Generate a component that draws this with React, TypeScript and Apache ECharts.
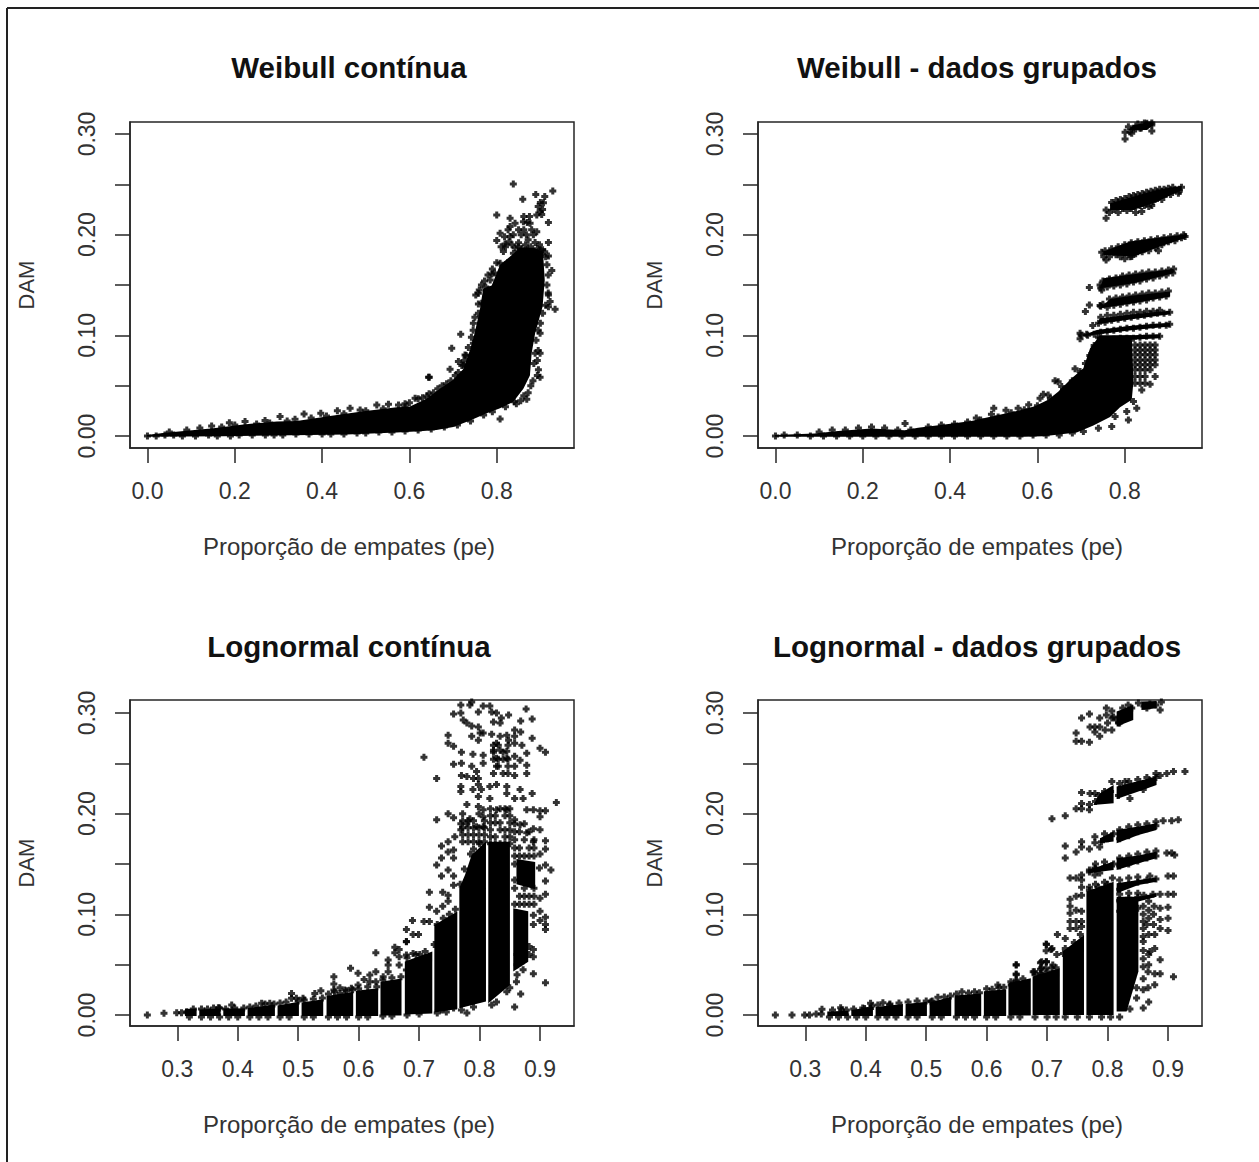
import React, { useEffect, useRef } from "react";
import * as echarts from "echarts";

type P = number[];

const titles = ["Weibull contínua", "Weibull - dados grupados", "Lognormal contínua", "Lognormal - dados grupados"];
const xName = "Proporção de empates (pe)";
const yName = "DAM";
const xTicksWeibull = [0, 0.2, 0.4, 0.6, 0.8];
const xTicksLognormal = [0.3, 0.4, 0.5, 0.6, 0.7, 0.8, 0.9];
const yTicks = [0, 0.05, 0.1, 0.15, 0.2, 0.25, 0.3];
const yLabels = [0, 0.1, 0.2, 0.3];

// ---- Weibull contínua
const wcDense: P[][] = [[
  [-0.002,-0.0008],[0.174,-0.0002],[0.4565,0.0015],[0.571,0.0035],[0.624,0.0047],[0.662,0.006],[0.7005,0.009],[0.739,0.0155],[0.777,0.0225],[0.8076,0.0275],[0.838,0.034],[0.861,0.047],[0.876,0.06],[0.88,0.0822],[0.888,0.1021],[0.905,0.1285],[0.91,0.155],[0.906,0.183],[0.884,0.187],[0.8535,0.187],[0.83,0.178],[0.8076,0.17],[0.7885,0.1495],[0.769,0.1465],[0.7617,0.1265],[0.75,0.103],[0.739,0.086],[0.7235,0.0665],[0.7005,0.056],[0.67,0.047],[0.639,0.037],[0.6,0.029],[0.571,0.0285],[0.495,0.0245],[0.418,0.02],[0.342,0.015],[0.296,0.0145],[0.2197,0.0115],[0.151,0.0078],[0.0898,0.0052],[0.036,0.003],[-0.002,0.001]
]];
const wcPoints: P[] = [
  [0.838,0.2503],[0.9284,0.2434],[0.8894,0.2398],[0.8596,0.2351],[0.907,0.2318],[0.8,0.2196],[0.8993,0.2229],[0.8917,0.2196],[0.8306,0.2163],[0.9184,0.212],[0.8611,0.2129],[0.8764,0.2113],[0.8306,0.208],[0.842,0.2113],[0.8917,0.203],[0.8077,0.2014],[0.8,0.1941],[0.8306,0.1981],[0.9184,0.1921],[0.8879,0.1921],[0.8497,0.1881],[0.8191,0.1908],[0.8153,0.1832],[0.8382,0.1815],[0.9184,0.1789],[0.7886,0.161],[0.8077,0.1716],[0.9261,0.1643],[0.758,0.1418],[0.758,0.1312],[0.9184,0.1401],[0.9337,0.1259],[0.7465,0.112],[0.7175,0.1011],[0.6969,0.0872],[0.6457,0.0584],[0.6931,0.0663],[0.7274,0.0805],[0.7122,0.0739],[0.8993,0.0584],[0.8688,0.0365],[0.8077,0.017],[0.8955,0.0657],[0.8879,0.0822],[0.7465,0.0921],[0.7236,0.0706],[0.9223,0.1335],[0.7809,0.1451],[0.7656,0.1319],[0.8993,0.0822],[0.8993,0.1021],[0.9184,0.1285],
  [0.147,0.01],[0.1876,0.0133],[0.2235,0.0143],[0.2693,0.0153],[0.3037,0.0193],[0.338,0.0166],[0.3587,0.0219],[0.397,0.0226],[0.435,0.0252],[0.4641,0.0275],[0.4871,0.0259],[0.5253,0.0308],[0.552,0.0315],[0.575,0.0308],[0.613,0.0375],[0.64,0.0398],[0.6437,0.0583],
  [0,0],[0.02,0],[0.04,0.001],[0.06,0.001],[0.08,0],[0.11,0],[0.14,0.001],[0.16,0],[0.19,0],[0.21,0.001],[0.24,0.001],[0.27,0.001],[0.29,0.001],[0.31,0.001],[0.34,0.002],[0.37,0.002],[0.4,0.002],[0.42,0.002],[0.45,0.002],[0.48,0.003],[0.5,0.003],[0.53,0.004],[0.56,0.004],[0.59,0.005],[0.62,0.006],[0.65,0.007],[0.68,0.009],[0.71,0.011],[0.74,0.015],[0.77,0.021],[0.79,0.024],[0.82,0.029],[0.84,0.034],
  [0.82,0.188],[0.828,0.193],[0.835,0.19],[0.842,0.187],[0.85,0.192],[0.856,0.2],[0.862,0.205],[0.868,0.2],[0.872,0.195],[0.878,0.188],[0.884,0.2],[0.866,0.19],[0.858,0.186],[0.88,0.205],[0.87,0.212],[0.862,0.218],[0.875,0.218],[0.85,0.205],[0.838,0.2],[0.826,0.205],[0.818,0.198],[0.81,0.188],[0.9,0.232],[0.895,0.228],[0.905,0.225],[0.903,0.22],[0.91,0.238],[0.898,0.19],[0.905,0.185],[0.91,0.183],[0.893,0.186],[0.9,0.18],
  [0.8,0.172],[0.79,0.166],[0.78,0.16],[0.772,0.154],[0.765,0.15],[0.775,0.148],[0.785,0.155],[0.795,0.162],[0.76,0.145],[0.752,0.14],[0.758,0.122],[0.75,0.118],[0.746,0.105],[0.742,0.098],[0.735,0.088],[0.73,0.08],[0.725,0.075],[0.72,0.07],[0.712,0.063],[0.705,0.06],[0.695,0.055],[0.685,0.052],[0.675,0.05],[0.665,0.047],[0.655,0.043],[0.645,0.042],[0.63,0.038],[0.62,0.037],[0.6,0.033],[0.59,0.032],
  [0.915,0.17],[0.918,0.16],[0.915,0.15],[0.918,0.142],[0.912,0.13],[0.905,0.122],[0.9,0.112],[0.895,0.105],[0.89,0.095],[0.895,0.085],[0.893,0.075],[0.885,0.072],[0.893,0.06],[0.883,0.055],[0.878,0.05],[0.872,0.043],[0.862,0.04],[0.855,0.035],[0.845,0.032],
  [0.912,0.178],[0.9,0.185],[0.885,0.183],[0.87,0.185],[0.85,0.183],[0.84,0.177],[0.825,0.172],[0.815,0.168],
  [0.05,0.004],[0.09,0.006],[0.12,0.008],[0.17,0.009],[0.2,0.011],[0.25,0.012],[0.28,0.013],[0.32,0.015],[0.375,0.018],[0.41,0.02],[0.45,0.022],[0.5,0.025],[0.54,0.027],[0.59,0.029]
];

// ---- Weibull dados grupados
const wgDense: P[][] = [
  [[-0.002,-0.0008],[0.571,-0.0008],[0.6136,-0.0002],[0.69,0.0035],[0.7282,0.0105],[0.7664,0.019],[0.7893,0.0285],[0.8161,0.036],[0.82,0.0541],[0.8161,0.1],[0.7435,0.1],[0.7206,0.0872],[0.7053,0.0673],[0.6786,0.0574],[0.6475,0.044],[0.6246,0.036],[0.594,0.0295],[0.5558,0.025],[0.4947,0.0195],[0.4489,0.0148],[0.3877,0.0115],[0.3266,0.0082],[0.296,0.0058],[0.2197,0.0075],[0.1433,0.005],[0.0898,0.0025],[-0.002,0.001]],
  [[0.7664,0.2246],[0.82,0.2246],[0.8734,0.2328],[0.9307,0.2444],[0.9307,0.2487],[0.8734,0.2444],[0.82,0.2378],[0.7664,0.2312]],
  [[0.7511,0.1799],[0.82,0.1782],[0.881,0.1882],[0.9421,0.1971],[0.9421,0.2004],[0.881,0.1971],[0.8123,0.1931],[0.7511,0.1832]],
  [[0.7435,0.1468],[0.82,0.1517],[0.9116,0.1617],[0.9116,0.166],[0.82,0.1607],[0.7511,0.1567]],
  [[0.7435,0.1269],[0.82,0.1319],[0.904,0.1385],[0.904,0.1435],[0.82,0.1395],[0.7664,0.1362]],
  [[0.7359,0.111],[0.82,0.1163],[0.904,0.121],[0.904,0.1243],[0.82,0.121],[0.7435,0.117]],
  [[0.6977,0.0988],[0.82,0.1054],[0.904,0.1087],[0.904,0.1124],[0.82,0.1097],[0.7359,0.1054]],
  [[0.7359,0.0938],[0.881,0.0971],[0.881,0.1011],[0.7359,0.0988]],
  [[0.8084,0.304],[0.8505,0.304],[0.8658,0.309],[0.8658,0.3123],[0.82,0.309]]
];
const wgPoints: P[] = [
  [0.8008,0.2951],[0.8008,0.3017],[0.8084,0.3073],[0.82,0.3057],[0.8352,0.3057],[0.8505,0.309],[0.862,0.303],[0.862,0.309],[0.816,0.3007],[0.8505,0.3106],
  [0.7573,0.2246],[0.7573,0.2163],[0.839,0.2229],[0.8619,0.2289],[0.923,0.2411],[0.7573,0.1749],[0.7473,0.1825],[0.8772,0.1839],[0.9383,0.1981],[0.8161,0.1782],[0.719,0.1474],[0.7435,0.1501],[0.7473,0.1451],[0.719,0.1302],[0.7099,0.1236],[0.7435,0.1296],[0.7267,0.1097],[0.6977,0.1021],[0.6977,0.0965],[0.7129,0.1011],
  [0.6404,0.0548],[0.606,0.0376],[0.6136,0.0415],[0.6862,0.0667],[0.6977,0.064],[0.6556,0.0491],[0.8275,0.0276],[0.8046,0.0243],[0.8084,0.016],[0.7702,0.0094],[0.7779,0.0193],[0.7397,0.0078],[0.7053,0.0045],[0.8581,0.0514],[0.8696,0.0591],[0.839,0.0458],[0.82,0.0342],
  [0.8237,0.0905],[0.8352,0.0905],[0.8466,0.0905],[0.8581,0.0905],[0.8696,0.0905],[0.8237,0.0855],[0.8352,0.0855],[0.8466,0.0855],[0.8581,0.0855],[0.8696,0.0855],[0.8237,0.0806],[0.8352,0.0806],[0.8466,0.0806],[0.8581,0.0806],[0.8696,0.0806],[0.8237,0.0756],[0.8352,0.0756],[0.8466,0.0756],[0.8581,0.0756],[0.8696,0.0756],[0.8237,0.0707],[0.8352,0.0707],[0.8466,0.0707],[0.8581,0.0707],[0.8696,0.0707],[0.8237,0.0657],[0.8352,0.0657],[0.8466,0.0657],[0.8581,0.0657],[0.8237,0.0591],[0.8352,0.0591],[0.8466,0.0591],[0.8237,0.0524],[0.8352,0.0524],[0.8466,0.0524],
  [0.2968,0.0125],[0.0,0],[0.02,0.001],[0.05,0.001],[0.08,0],[0.11,0],[0.14,0],[0.17,0],[0.2,0],[0.23,0],[0.26,0],[0.29,0],[0.32,0],[0.35,0],[0.38,0],[0.41,0],[0.44,0],[0.47,0],[0.5,0],[0.53,0],[0.56,0],[0.59,0.001],[0.62,0.001],[0.65,0.001],[0.68,0.003],
  [0.5558,0.0275],[0.528,0.0255],[0.4947,0.0215],[0.46,0.018],[0.5,0.0275],[0.58,0.031],[0.6246,0.0408],[0.6475,0.054],
  [0.1,0.004],[0.13,0.006],[0.16,0.006],[0.19,0.008],[0.22,0.009],[0.25,0.008],[0.28,0.006],[0.31,0.006],[0.35,0.009],[0.38,0.011],[0.41,0.012],[0.44,0.014],[0.47,0.016],[0.51,0.019],[0.54,0.023],[0.57,0.026],[0.6,0.03],[0.63,0.037],[0.66,0.046],[0.68,0.055],[0.7,0.062],[0.71,0.072],[0.72,0.08],[0.73,0.09],[0.74,0.098],
  [0.765,0.222],[0.775,0.225],[0.785,0.222],[0.795,0.226],[0.805,0.224],[0.815,0.226],[0.825,0.222],[0.835,0.229],[0.845,0.229],[0.855,0.228],[0.865,0.233],[0.875,0.236],[0.885,0.235],[0.895,0.24],[0.905,0.24],[0.915,0.244],[0.925,0.243],[0.93,0.247],[0.77,0.232],[0.78,0.234],[0.79,0.235],[0.8,0.236],[0.81,0.238],[0.82,0.239],[0.83,0.24],[0.84,0.241],[0.85,0.242],[0.86,0.243],[0.87,0.244],[0.88,0.245],[0.89,0.245],[0.9,0.246],[0.91,0.247],
  [0.752,0.178],[0.765,0.178],[0.78,0.18],[0.79,0.178],[0.8,0.176],[0.812,0.178],[0.825,0.181],[0.84,0.183],[0.855,0.184],[0.87,0.187],[0.885,0.19],[0.9,0.193],[0.915,0.194],[0.93,0.197],[0.755,0.184],[0.77,0.186],[0.785,0.188],[0.8,0.19],[0.815,0.192],[0.83,0.193],[0.845,0.194],[0.86,0.195],[0.875,0.196],[0.89,0.197],[0.905,0.198],[0.92,0.199],[0.935,0.2],
  [0.745,0.147],[0.76,0.148],[0.775,0.149],[0.79,0.15],[0.805,0.151],[0.82,0.153],[0.835,0.154],[0.85,0.156],[0.865,0.157],[0.88,0.159],[0.895,0.16],[0.91,0.162],[0.75,0.154],[0.765,0.156],[0.78,0.157],[0.795,0.159],[0.81,0.16],[0.825,0.161],[0.84,0.162],[0.855,0.163],[0.87,0.163],[0.885,0.164],[0.9,0.165],[0.912,0.166],
  [0.745,0.129],[0.76,0.128],[0.775,0.13],[0.79,0.131],[0.805,0.132],[0.82,0.133],[0.835,0.134],[0.85,0.135],[0.865,0.137],[0.88,0.138],[0.895,0.139],[0.75,0.131],[0.765,0.136],[0.78,0.137],[0.795,0.138],[0.81,0.139],[0.825,0.14],[0.84,0.141],[0.855,0.142],[0.87,0.142],[0.885,0.143],[0.9,0.144],
  [0.74,0.112],[0.755,0.113],[0.77,0.115],[0.785,0.116],[0.8,0.117],[0.815,0.118],[0.83,0.119],[0.845,0.12],[0.86,0.121],[0.875,0.122],[0.89,0.122],[0.903,0.123],[0.745,0.118],[0.76,0.12],[0.775,0.12],[0.79,0.121],[0.805,0.122],[0.82,0.123],[0.835,0.123],[0.85,0.124],[0.865,0.124],[0.88,0.125],
  [0.7,0.1],[0.715,0.1],[0.73,0.101],[0.745,0.103],[0.76,0.104],[0.775,0.105],[0.79,0.106],[0.805,0.107],[0.82,0.107],[0.835,0.108],[0.85,0.109],[0.865,0.11],[0.88,0.11],[0.895,0.11],[0.903,0.111],
  [0.745,0.094],[0.76,0.096],[0.775,0.096],[0.79,0.097],[0.805,0.097],[0.82,0.097],[0.835,0.098],[0.85,0.099],[0.865,0.099],[0.88,0.099],
  [0.812,0.302],[0.825,0.305],[0.838,0.306],[0.85,0.308],[0.862,0.311],[0.83,0.31],[0.845,0.311]
];

// ---- Lognormal contínua
const lcDense: P[][] = [
  [[0.3127,-0.001],[0.332,-0.001],[0.332,0.0066],[0.3127,0.006]],
  [[0.3364,-0.001],[0.3717,-0.001],[0.3717,0.0066],[0.3364,0.0055]],
  [[0.3761,-0.001],[0.4119,-0.001],[0.4119,0.0066],[0.3761,0.0066]],
  [[0.4163,-0.001],[0.4615,-0.001],[0.4615,0.0105],[0.4163,0.007]],
  [[0.4659,-0.001],[0.5012,-0.001],[0.5012,0.0133],[0.4659,0.0095]],
  [[0.5056,-0.001],[0.5414,-0.001],[0.5414,0.0156],[0.5056,0.0125]],
  [[0.5469,-0.001],[0.591,-0.001],[0.591,0.0232],[0.5469,0.019]],
  [[0.5954,-0.001],[0.6323,-0.001],[0.6323,0.0265],[0.5954,0.024]],
  [[0.6361,-0.0005],[0.6709,-0.0005],[0.6709,0.0364],[0.6361,0.033]],
  [[0.6764,0.0005],[0.7218,0.0015],[0.7218,0.063],[0.6764,0.0531]],
  [[0.7252,0.0025],[0.7632,0.006],[0.7632,0.1028],[0.7252,0.0895]],
  [[0.7665,0.0068],[0.8106,0.0134],[0.8106,0.1723],[0.7869,0.159],[0.7759,0.1392],[0.7665,0.1259]],
  [[0.8144,0.0117],[0.8502,0.0299],[0.8502,0.172],[0.8144,0.172]],
  [[0.8557,0.0432],[0.8805,0.053],[0.8805,0.103],[0.8557,0.1061]],
  [[0.861,0.13],[0.892,0.125],[0.892,0.152],[0.861,0.155]]
];
const lcPoints: P[] = [
  [0.787,0.311],[0.769,0.308],[0.784,0.308],[0.806,0.307],[0.817,0.307],[0.877,0.304],[0.757,0.299],[0.769,0.3],[0.798,0.301],[0.82,0.301],[0.828,0.3],[0.848,0.298],[0.836,0.295],[0.887,0.294],[0.868,0.292],[0.773,0.293],[0.779,0.29],[0.787,0.287],[0.798,0.286],[0.823,0.291],[0.834,0.29],[0.858,0.283],[0.868,0.281],[0.748,0.278],[0.787,0.277],[0.801,0.28],[0.806,0.28],[0.82,0.279],[0.834,0.277],[0.845,0.278],[0.858,0.277],[0.887,0.275],[0.748,0.27],[0.757,0.267],[0.798,0.273],[0.828,0.27],[0.848,0.273],[0.858,0.27],[0.87,0.268],[0.9,0.265],[0.909,0.261],[0.823,0.263],[0.834,0.263],[0.845,0.262],[0.878,0.26],[0.708,0.256],[0.77,0.261],[0.789,0.259],[0.806,0.258],[0.858,0.257],[0.757,0.249],[0.77,0.25],[0.787,0.247],[0.806,0.25],[0.828,0.255],[0.845,0.255],[0.867,0.253],[0.878,0.248],[0.828,0.247],[0.858,0.247],[0.878,0.24],[0.795,0.242],[0.77,0.238],[0.779,0.237],[0.79,0.235],[0.798,0.235],[0.729,0.235],[0.858,0.238],[0.828,0.229],[0.798,0.229],[0.817,0.227],[0.845,0.227],[0.769,0.227],[0.769,0.222],[0.789,0.224],[0.803,0.224],[0.867,0.224],[0.887,0.22],[0.798,0.217],[0.817,0.215],[0.845,0.22],[0.858,0.215],[0.872,0.215],[0.927,0.211],[0.779,0.209],[0.798,0.207],[0.806,0.204],[0.878,0.204],[0.889,0.204],[0.9,0.203],[0.909,0.203],[0.748,0.2],[0.757,0.196],[0.729,0.194],[0.9,0.197],[0.784,0.195],[0.806,0.197],[0.828,0.204],[0.845,0.204],[0.769,0.19],[0.769,0.184],[0.779,0.19],[0.795,0.187],[0.806,0.187],[0.858,0.194],[0.867,0.189],[0.889,0.185],[0.9,0.184],[0.759,0.177],[0.748,0.172],[0.737,0.168],[0.909,0.173],[0.889,0.172],[0.878,0.181],[0.757,0.164],[0.748,0.162],[0.737,0.156],[0.757,0.156],[0.909,0.165],[0.9,0.16],[0.729,0.149],[0.748,0.144],[0.737,0.138],[0.757,0.138],[0.909,0.149],[0.899,0.146],[0.918,0.144],[0.909,0.133],[0.717,0.122],[0.739,0.122],[0.748,0.119],[0.757,0.129],[0.748,0.113],[0.909,0.12],[0.9,0.116],[0.717,0.107],[0.729,0.103],[0.739,0.108],[0.689,0.094],[0.708,0.093],[0.717,0.093],[0.679,0.085],[0.69,0.08],[0.699,0.08],[0.679,0.073],[0.69,0.061],[0.701,0.06],[0.9,0.103],[0.909,0.097],[0.9,0.094],[0.909,0.09],[0.909,0.085],[0.889,0.099],[0.889,0.09],[0.909,0.032],[0.889,0.041],[0.868,0.021],[0.858,0.008],[0.828,0.013],[0.779,0.002],[0.737,0.005],[0.757,0.007],[0.85,0.027],[0.845,0.023],[0.889,0.065],[0.889,0.058],[0.861,0.033],
  [0.2505,0],[0.278,0.0017],[0.299,0.0023],[0.307,0.0023],[0.3155,0.0033],[0.3265,0.006],[0.368,0.0073],[0.39,0.01],[0.4395,0.0116],[0.453,0.0116],[0.489,0.0215],[0.497,0.0166],[0.489,0.0166],[0.508,0.0166],[0.5275,0.0215],[0.5375,0.0242],[0.559,0.0381],[0.559,0.0308],[0.559,0.0249],[0.569,0.0272],[0.569,0.0215],[0.577,0.0249],[0.588,0.0265],[0.5866,0.0464],[0.599,0.0414],[0.599,0.0298],[0.609,0.0354],[0.6185,0.0397],[0.6185,0.0331],[0.6284,0.0619],[0.6284,0.0431],[0.6284,0.0331],[0.6406,0.0381],[0.6488,0.0546],[0.6488,0.0497],[0.6488,0.0431],[0.6598,0.0672],[0.6598,0.0619],[0.667,0.0652],[0.667,0.0579],[0.667,0.0497],[0.679,0.0728],[0.679,0.0596],[0.679,0.0447],
  [0.772,0.172],[0.772,0.179],[0.772,0.186],[0.772,0.193],[0.772,0.2],[0.781,0.172],[0.781,0.179],[0.781,0.186],[0.781,0.193],[0.79,0.165],[0.79,0.172],[0.79,0.179],[0.79,0.186],[0.79,0.193],[0.799,0.172],[0.799,0.179],[0.799,0.186],[0.799,0.2],[0.808,0.172],[0.808,0.179],[0.808,0.186],[0.808,0.193],
  [0.818,0.17],[0.818,0.177],[0.818,0.184],[0.818,0.191],[0.818,0.198],[0.818,0.205],[0.826,0.17],[0.826,0.177],[0.826,0.191],[0.826,0.198],[0.834,0.17],[0.834,0.184],[0.834,0.191],[0.834,0.205],[0.842,0.17],[0.842,0.177],[0.842,0.184],[0.842,0.198],[0.842,0.205],[0.85,0.17],[0.85,0.177],[0.85,0.184],[0.85,0.191],[0.85,0.198],[0.85,0.205],
  [0.823,0.24],[0.823,0.254],[0.823,0.261],[0.823,0.268],[0.831,0.247],[0.831,0.254],[0.831,0.268],[0.839,0.24],[0.839,0.254],[0.839,0.261],[0.847,0.24],[0.847,0.247],[0.847,0.254],[0.847,0.268],
  [0.858,0.11],[0.858,0.126],[0.858,0.134],[0.858,0.15],[0.858,0.158],[0.858,0.166],[0.858,0.174],[0.858,0.182],[0.858,0.19],[0.866,0.11],[0.866,0.118],[0.866,0.158],[0.866,0.166],[0.866,0.182],[0.874,0.11],[0.874,0.118],[0.874,0.126],[0.874,0.158],[0.874,0.174],[0.874,0.19],[0.882,0.11],[0.882,0.118],[0.882,0.158],[0.882,0.166],[0.882,0.182],[0.89,0.11],[0.89,0.118],[0.89,0.126],[0.89,0.158],[0.89,0.166],[0.89,0.174],[0.862,0.06],[0.872,0.064],[0.882,0.068],[0.862,0.05],[0.872,0.054],[0.882,0.06],[0.862,0.04],[0.872,0.045],
  [0.32,-0.002],[0.34,-0.002],[0.355,-0.002],[0.37,-0.002],[0.385,-0.002],[0.4,-0.002],[0.42,-0.002],[0.435,-0.002],[0.45,-0.002],[0.47,-0.002],[0.485,-0.002],[0.51,-0.002],[0.525,-0.002],[0.55,-0.002],[0.565,-0.002],[0.58,-0.002],[0.6,-0.002],[0.615,-0.002],[0.64,-0.001],[0.655,-0.001],[0.68,0],[0.7,0.001],[0.73,0.002],[0.745,0.003],[0.77,0.005],[0.79,0.008],[0.82,0.01],
  [0.34,0.006],[0.35,0.006],[0.36,0.007],[0.37,0.007],[0.38,0.006],[0.395,0.007],[0.41,0.007],[0.42,0.008],[0.43,0.009],[0.445,0.011],[0.46,0.011],[0.47,0.012],[0.48,0.013],[0.5,0.014],[0.51,0.015],[0.525,0.016],[0.54,0.017],[0.55,0.021],[0.56,0.023],[0.58,0.024],[0.59,0.025],[0.6,0.026],[0.615,0.028],[0.63,0.028],[0.64,0.035],[0.655,0.037],[0.67,0.038],[0.68,0.057],[0.695,0.06],[0.71,0.063],[0.725,0.07],[0.73,0.09],[0.74,0.096],[0.75,0.1],[0.76,0.105],[0.768,0.13],[0.775,0.145],[0.785,0.16],[0.8,0.17]
];

// ---- Lognormal dados grupados
const lgDense: P[][] = [
  [[0.3364,-0.001],[0.3717,-0.001],[0.3717,0.0043],[0.3364,0.0035]],
  [[0.3761,-0.001],[0.4119,-0.001],[0.4119,0.0083],[0.3761,0.005]],
  [[0.4163,-0.001],[0.4615,-0.001],[0.4615,0.0109],[0.4163,0.008]],
  [[0.4659,-0.001],[0.5012,-0.001],[0.5012,0.0133],[0.4659,0.011]],
  [[0.5056,-0.001],[0.5414,-0.001],[0.5414,0.0182],[0.5056,0.0125]],
  [[0.5469,-0.001],[0.591,-0.001],[0.591,0.0215],[0.5469,0.0195]],
  [[0.5954,-0.001],[0.6323,-0.001],[0.6323,0.0255],[0.5954,0.0235]],
  [[0.636,-0.0005],[0.673,-0.0005],[0.673,0.0366],[0.636,0.0316]],
  [[0.676,0],[0.721,0],[0.721,0.0465],[0.676,0.0382]],
  [[0.726,0],[0.761,0],[0.761,0.0796],[0.726,0.063]],
  [[0.765,0],[0.81,0],[0.81,0.1325],[0.765,0.1226]],
  [[0.815,0.0035],[0.8315,0.0035],[0.851,0.0432],[0.851,0.114],[0.815,0.114]],
  [[0.815,0.2146],[0.851,0.2219],[0.881,0.2285],[0.881,0.2368],[0.851,0.2325],[0.815,0.2269]],
  [[0.7764,0.2087],[0.81,0.2103],[0.81,0.2285],[0.7874,0.2203]],
  [[0.815,0.1706],[0.851,0.1789],[0.881,0.1838],[0.881,0.1905],[0.851,0.1872],[0.815,0.1838]],
  [[0.7874,0.1706],[0.81,0.1723],[0.81,0.1822],[0.7874,0.1756]],
  [[0.815,0.1441],[0.851,0.1507],[0.881,0.1557],[0.881,0.1623],[0.851,0.1584],[0.815,0.1557]],
  [[0.768,0.1408],[0.81,0.1441],[0.81,0.1524],[0.768,0.1441]],
  [[0.815,0.121],[0.851,0.1292],[0.881,0.1325],[0.881,0.1365],[0.851,0.1342],[0.815,0.1309]],
  [[0.815,0.111],[0.851,0.1127],[0.881,0.1176],[0.881,0.121],[0.851,0.1176],[0.815,0.1176]],
  [[0.815,0.2865],[0.8425,0.2931],[0.8425,0.308],[0.815,0.3014]],
  [[0.856,0.303],[0.881,0.3047],[0.881,0.3119],[0.856,0.3113]]
];
const lgPoints: P[] = [
  [0.757,0.295],[0.77,0.299],[0.748,0.28],[0.748,0.272],[0.757,0.272],[0.77,0.271],[0.771,0.286],[0.779,0.286],[0.787,0.286],[0.779,0.281],[0.787,0.277],[0.798,0.305],[0.807,0.302],[0.798,0.298],[0.787,0.295],[0.807,0.295],[0.818,0.29],[0.796,0.283],[0.807,0.283],[0.815,0.293],[0.834,0.308],[0.851,0.31],[0.865,0.305],[0.887,0.303],[0.889,0.311],
  [0.757,0.221],[0.771,0.22],[0.779,0.22],[0.757,0.21],[0.748,0.205],[0.757,0.205],[0.77,0.209],[0.77,0.204],[0.807,0.232],[0.837,0.215],[0.859,0.224],[0.887,0.238],[0.898,0.24],[0.909,0.242],[0.928,0.242],[0.829,0.232],
  [0.708,0.195],[0.73,0.198],[0.73,0.168],[0.73,0.156],[0.748,0.162],[0.757,0.172],[0.757,0.167],[0.77,0.165],[0.779,0.177],[0.779,0.171],[0.787,0.167],[0.906,0.193],[0.917,0.194],[0.892,0.193],
  [0.738,0.136],[0.748,0.136],[0.757,0.139],[0.757,0.134],[0.757,0.127],[0.77,0.144],[0.779,0.146],[0.779,0.139],[0.787,0.141],[0.906,0.161],[0.911,0.159],[0.898,0.161],
  [0.738,0.115],[0.748,0.118],[0.757,0.119],[0.738,0.108],[0.748,0.104],[0.757,0.103],[0.738,0.101],[0.738,0.093],[0.748,0.093],[0.757,0.093],[0.738,0.086],[0.748,0.086],[0.757,0.088],[0.717,0.08],[0.73,0.076],[0.699,0.07],[0.708,0.066],[0.691,0.053],[0.699,0.053],[0.691,0.047],[0.708,0.047],[0.691,0.04],[0.677,0.043],[0.688,0.037],[0.716,0.06],[0.727,0.061],
  [0.9,0.138],[0.909,0.138],[0.909,0.12],[0.9,0.12],[0.887,0.12],[0.9,0.107],[0.887,0.106],[0.9,0.096],[0.887,0.095],[0.9,0.084],[0.887,0.086],[0.878,0.08],[0.878,0.066],[0.887,0.055],[0.887,0.041],[0.878,0.041],[0.909,0.038],[0.865,0.09],[0.859,0.073],[0.87,0.063],[0.859,0.056],[0.867,0.043],[0.878,0.03],[0.867,0.027],[0.859,0.025],[0.868,0.013],[0.859,0.007],[0.837,0.006],[0.848,0.017],[0.837,0.03],[0.848,0.027],[0.843,0.043],
  [0.859,0.1],[0.868,0.104],[0.868,0.096],[0.859,0.086],[0.868,0.08],[0.859,0.064],[0.868,0.06],[0.876,0.1],[0.876,0.09],[0.859,0.108],[0.868,0.113],[0.877,0.108],[0.859,0.093],[0.859,0.078],[0.859,0.048],[0.868,0.05],[0.859,0.036],
  [0.649,0.05],[0.649,0.04],[0.649,0.033],[0.649,0.027],
  [0.2505,0],[0.278,0],[0.299,0],[0.307,0],[0.318,0.001],[0.3276,0.0057],[0.3265,0.001],[0.3585,0.0073],[0.368,0.005],[0.398,0.0066],[0.408,0.0116],[0.408,0.0066],[0.4284,0.0123],[0.4395,0.01],[0.508,0.0133],[0.5193,0.0176],[0.559,0.0232],[0.58,0.0232],[0.588,0.0222],[0.609,0.0255],[0.6185,0.0298],[0.6284,0.0275],[0.6406,0.0298],[0.6488,0.0497],[0.6488,0.0407],[0.6488,0.0348],[0.6488,0.0298],[0.679,0.0431],[0.689,0.052],[0.689,0.0454],[0.689,0.0414],[0.6984,0.0705],[0.6984,0.0639],[0.7067,0.0652],[0.6984,0.053],[0.6984,0.0464],[0.7094,0.0497],[0.7094,0.0414],
  [0.34,-0.002],[0.355,-0.002],[0.37,-0.002],[0.385,-0.002],[0.4,-0.002],[0.42,-0.002],[0.435,-0.002],[0.45,-0.002],[0.47,-0.002],[0.485,-0.002],[0.51,-0.002],[0.525,-0.002],[0.55,-0.002],[0.565,-0.002],[0.58,-0.002],[0.6,-0.002],[0.615,-0.002],[0.64,-0.002],[0.655,-0.002],[0.68,-0.002],[0.7,-0.002],[0.715,-0.002],[0.73,-0.002],[0.75,-0.002],[0.77,-0.002],[0.79,-0.002],[0.805,-0.002],[0.82,-0.002],
  [0.345,0.005],[0.36,0.005],[0.38,0.006],[0.395,0.007],[0.41,0.009],[0.42,0.01],[0.44,0.011],[0.455,0.012],[0.47,0.013],[0.485,0.014],[0.5,0.014],[0.51,0.014],[0.53,0.018],[0.54,0.019],[0.55,0.021],[0.57,0.022],[0.6,0.026],[0.62,0.027],[0.64,0.033],[0.66,0.036],[0.68,0.04],[0.7,0.043],[0.715,0.047],[0.73,0.066],[0.745,0.072],[0.755,0.08],[0.77,0.124],[0.785,0.127],[0.8,0.13],[0.82,0.103],[0.84,0.104],[0.85,0.106],
  [0.78,0.212],[0.79,0.214],[0.8,0.214],[0.805,0.222],[0.795,0.222],[0.785,0.218],[0.818,0.218],[0.83,0.222],[0.84,0.225],[0.85,0.228],[0.86,0.23],[0.87,0.233],[0.88,0.236],[0.82,0.23],[0.835,0.232],[0.85,0.234],[0.865,0.236],[0.88,0.24],
  [0.79,0.172],[0.8,0.175],[0.81,0.18],[0.795,0.18],[0.82,0.175],[0.835,0.178],[0.85,0.182],[0.865,0.185],[0.88,0.188],[0.82,0.184],[0.835,0.187],[0.85,0.189],[0.865,0.19],[0.88,0.192],
  [0.77,0.142],[0.78,0.145],[0.795,0.147],[0.81,0.15],[0.78,0.15],[0.795,0.152],[0.82,0.148],[0.835,0.15],[0.85,0.153],[0.865,0.156],[0.88,0.158],[0.82,0.156],[0.835,0.158],[0.85,0.16],[0.865,0.162],[0.88,0.163],
  [0.77,0.127],[0.78,0.13],[0.795,0.132],[0.808,0.136],[0.82,0.125],[0.835,0.13],[0.85,0.132],[0.865,0.134],[0.88,0.135],[0.82,0.134],[0.835,0.136],[0.85,0.137],[0.87,0.138],
  [0.82,0.114],[0.835,0.116],[0.85,0.117],[0.86,0.119],[0.875,0.12],[0.82,0.12],[0.835,0.121],[0.85,0.121],
  [0.8,0.29],[0.81,0.296],[0.82,0.29],[0.83,0.3],[0.84,0.305],[0.825,0.305],[0.86,0.307],[0.87,0.309],[0.88,0.308]
];

const densePanels = [wcDense, wgDense, lcDense, lgDense];
const pointPanels = [wcPoints, wgPoints, lcPoints, lgPoints];

const FONT = "'Liberation Sans', Arial, sans-serif";
const INK = "#262626";
const CROSS = "path://M2,0H5V2H7V5H5V7H2V5H0V2H2Z";
const cells = [
  { left: 130, top: 122, xr: [-0.04, 0.977], yr: [-0.0119, 0.3119], xt: xTicksWeibull, tx: 349, ty: 52 },
  { left: 758, top: 122, xr: [-0.04, 0.977], yr: [-0.0119, 0.3119], xt: xTicksWeibull, tx: 977, ty: 52 },
  { left: 130, top: 700, xr: [0.2218, 0.9562], yr: [-0.0109, 0.3129], xt: xTicksLognormal, tx: 349, ty: 631 },
  { left: 758, top: 700, xr: [0.2218, 0.9562], yr: [-0.0109, 0.3129], xt: xTicksLognormal, tx: 977, ty: 631 },
];

function buildOption() {
  return {
    animation: false,
    backgroundColor: "#fff",
    title: cells.map((c, i) => ({
      text: titles[i], left: c.tx, top: c.ty, textAlign: "center", padding: 0,
      textStyle: { fontFamily: FONT, fontSize: 29.5, fontWeight: "bold", color: "#111" },
    })),
    graphic: [
      { type: "line", shape: { x1: 7, y1: 8, x2: 1259, y2: 8 }, style: { stroke: "#222", lineWidth: 2 } },
      { type: "line", shape: { x1: 7, y1: 8, x2: 7, y2: 1162 }, style: { stroke: "#222", lineWidth: 2 } },
    ],
    grid: cells.map((c) => ({
      left: c.left, top: c.top, width: 444, height: 326, containLabel: false,
      show: true, borderColor: INK, borderWidth: 1.5, backgroundColor: "transparent",
    })),
    xAxis: cells.map((c, i) => ({
      type: "value", gridIndex: i, min: c.xr[0], max: c.xr[1], splitLine: { show: false },
      name: xName, nameLocation: "middle", nameGap: 86,
      nameTextStyle: { fontFamily: FONT, fontSize: 24, color: "#333", padding: [0, 6, 0, 0] },
      axisLine: { show: true, onZero: false, lineStyle: { color: INK, width: 1.5 } },
      axisTick: { show: true, length: 15, customValues: c.xt, lineStyle: { color: INK, width: 1.5 } },
      axisLabel: { margin: 31, customValues: c.xt, fontFamily: FONT, fontSize: 23, color: "#333", formatter: (v: number) => v.toFixed(1) },
    })),
    yAxis: cells.map((c, i) => ({
      type: "value", gridIndex: i, min: c.yr[0], max: c.yr[1], splitLine: { show: false },
      name: yName, nameLocation: "middle", nameGap: 93,
      nameTextStyle: { fontFamily: FONT, fontSize: 22, color: "#333" },
      axisLine: { show: true, onZero: false, lineStyle: { color: INK, width: 1.5 } },
      axisTick: { show: true, length: 15, customValues: yTicks, lineStyle: { color: INK, width: 1.5 } },
      axisLabel: { margin: 32, rotate: 90, customValues: yLabels, fontFamily: FONT, fontSize: 23, color: "#333", formatter: (v: number) => v.toFixed(2) },
    })),
    series: cells.flatMap((_, i) => [
      {
        type: "custom", coordinateSystem: "cartesian2d", xAxisIndex: i, yAxisIndex: i, clip: true, silent: true,
        data: densePanels[i].map((poly) => poly[0]),
        renderItem: (params: any, api: any) => ({
          type: "polygon",
          shape: { points: densePanels[i][params.dataIndex].map((p) => api.coord(p)) },
          style: { fill: "#000" },
        }),
      },
      {
        type: "scatter", xAxisIndex: i, yAxisIndex: i, clip: true, silent: true,
        symbol: CROSS, symbolSize: 7, itemStyle: { color: "#000" },
        data: pointPanels[i],
      },
    ]),
  };
}

export default function App() {
  const ref = useRef<HTMLDivElement>(null);
  useEffect(() => {
    const chart = echarts.init(ref.current!, undefined, { renderer: "svg" });
    chart.setOption(buildOption() as any);
    return () => chart.dispose();
  }, []);
  return <div ref={ref} style={{ position: "absolute", left: 0, top: 0, width: 1259, height: 1162 }} />;
}
